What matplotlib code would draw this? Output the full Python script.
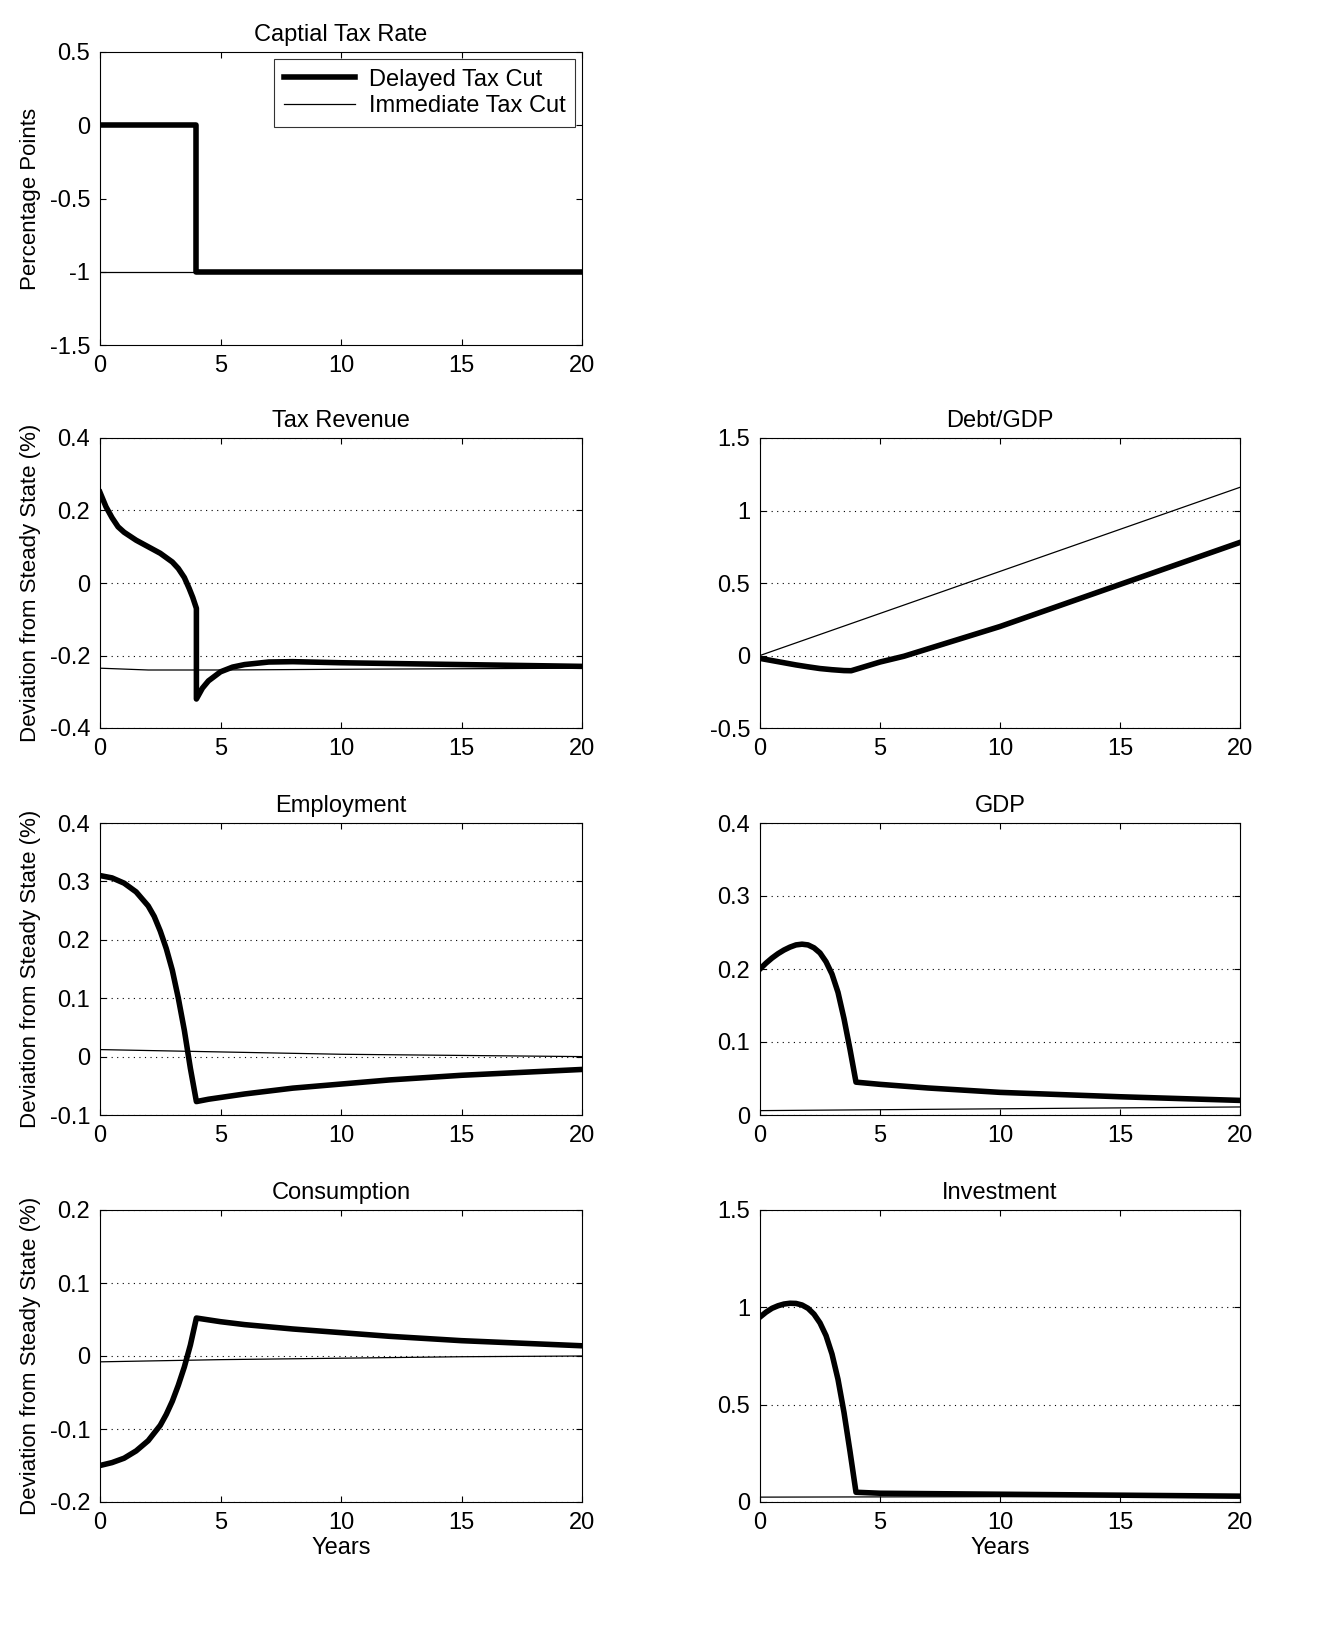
import matplotlib
matplotlib.use("Agg")
import matplotlib.pyplot as plt
from matplotlib.ticker import FuncFormatter
import numpy as np

plt.rcParams['font.family'] = ['Liberation Sans', 'DejaVu Sans']
plt.rcParams['font.size'] = 16

# ---- data ----
tax_d_x = [0, 4, 4, 20]; tax_d_y = [0, 0, -1, -1]
tax_i_x = [0, 20]; tax_i_y = [-1, -1]

rev_d_x = [0, 0.25, 0.5, 0.75, 1, 1.5, 2, 2.5, 3, 3.25, 3.5, 3.7, 3.85, 4, 4, 4.25, 4.5, 5, 5.5, 6, 7, 8, 10, 15, 20]
rev_d_y = [0.25, 0.21, 0.18, 0.155, 0.14, 0.118, 0.10, 0.082, 0.058, 0.04, 0.015, -0.015, -0.04, -0.07, -0.32, -0.29, -0.27, -0.245, -0.232, -0.225, -0.218, -0.217, -0.22, -0.225, -0.23]
rev_i_x = [0, 2, 5, 10, 20]; rev_i_y = [-0.235, -0.24, -0.24, -0.238, -0.235]

debt_d_x = [0, 0.5, 1, 1.5, 2, 2.5, 3, 3.5, 3.8, 4, 4.5, 5, 6, 10, 15, 20]
debt_d_y = [-0.02, -0.035, -0.05, -0.065, -0.078, -0.09, -0.098, -0.104, -0.105, -0.095, -0.07, -0.045, -0.005, 0.2, 0.49, 0.78]
debt_i_x = [0, 5, 10, 15, 20]; debt_i_y = [0, 0.29, 0.58, 0.87, 1.16]

emp_d_x = [0, 0.5, 1, 1.5, 2, 2.25, 2.5, 2.75, 3, 3.25, 3.5, 3.75, 4, 4.5, 5, 6, 7, 8, 10, 12, 15, 20]
emp_d_y = [0.31, 0.306, 0.297, 0.282, 0.258, 0.24, 0.215, 0.185, 0.148, 0.1, 0.045, -0.02, -0.077, -0.073, -0.07, -0.064, -0.059, -0.054, -0.047, -0.04, -0.032, -0.022]
emp_i_x = [0, 5, 10, 15, 20]; emp_i_y = [0.012, 0.008, 0.004, 0.002, 0.0]

gdp_d_x = [0, 0.25, 0.5, 0.75, 1, 1.25, 1.5, 1.75, 2, 2.25, 2.5, 2.75, 3, 3.25, 3.5, 3.75, 4, 5, 7, 10, 15, 20]
gdp_d_y = [0.2, 0.208, 0.215, 0.221, 0.226, 0.23, 0.233, 0.234, 0.233, 0.229, 0.222, 0.21, 0.193, 0.168, 0.132, 0.09, 0.045, 0.042, 0.037, 0.031, 0.025, 0.02]
gdp_i_x = [0, 20]; gdp_i_y = [0.006, 0.011]

con_d_x = [0, 0.5, 1, 1.5, 2, 2.5, 2.75, 3, 3.25, 3.5, 3.75, 4, 5, 6, 7, 8, 10, 12, 15, 20]
con_d_y = [-0.15, -0.146, -0.14, -0.13, -0.116, -0.095, -0.08, -0.062, -0.04, -0.015, 0.015, 0.052, 0.047, 0.043, 0.04, 0.037, 0.032, 0.027, 0.021, 0.014]
con_i_x = [0, 5, 10, 15, 20]; con_i_y = [-0.008, -0.005, -0.003, -0.001, 0.0]

inv_d_x = [0, 0.25, 0.5, 0.75, 1, 1.25, 1.5, 1.75, 2, 2.25, 2.5, 2.75, 3, 3.25, 3.5, 3.75, 4, 5, 10, 20]
inv_d_y = [0.95, 0.975, 0.995, 1.008, 1.017, 1.021, 1.02, 1.012, 0.995, 0.965, 0.92, 0.855, 0.76, 0.63, 0.46, 0.26, 0.05, 0.045, 0.04, 0.03]
inv_i_x = [0, 20]; inv_i_y = [0.025, 0.03]

W, H = 1322, 1637
fig = plt.figure(figsize=(W/100, H/100), dpi=100)
def rect(l, t, r, b):
    return [l/W, 1-b/H, (r-l)/W, (b-t)/H]
L = (100, 582); R = (760, 1240)
rows = [(52, 345), (438, 728), (823, 1115), (1210, 1502)]

fmt = FuncFormatter(lambda v, p: '%g' % round(v, 6) if abs(v) > 1e-9 else '0')

panels = [
    (L, rows[0], 'Captial Tax Rate', tax_d_x, tax_d_y, tax_i_x, tax_i_y, (-1.5, 0.5), 0.5, False, 'Percentage Points', False),
    (L, rows[1], 'Tax Revenue', rev_d_x, rev_d_y, rev_i_x, rev_i_y, (-0.4, 0.4), 0.2, True, 'Deviation from Steady State (%)', False),
    (R, rows[1], 'Debt/GDP', debt_d_x, debt_d_y, debt_i_x, debt_i_y, (-0.5, 1.5), 0.5, True, None, False),
    (L, rows[2], 'Employment', emp_d_x, emp_d_y, emp_i_x, emp_i_y, (-0.1, 0.4), 0.1, True, 'Deviation from Steady State (%)', False),
    (R, rows[2], 'GDP', gdp_d_x, gdp_d_y, gdp_i_x, gdp_i_y, (0, 0.4), 0.1, True, None, False),
    (L, rows[3], 'Consumption', con_d_x, con_d_y, con_i_x, con_i_y, (-0.2, 0.2), 0.1, True, 'Deviation from Steady State (%)', True),
    (R, rows[3], 'Investment', inv_d_x, inv_d_y, inv_i_x, inv_i_y, (0, 1.5), 0.5, True, None, True),
]
for (cx, ry, title, dx, dy, ix, iy, ylim, step, grid, ylab, xlab) in panels:
    ax = fig.add_axes(rect(cx[0], ry[0], cx[1], ry[1]))
    ax.plot(dx, dy, color='black', lw=4, label='Delayed Tax Cut')
    ax.plot(ix, iy, color='black', lw=0.9, label='Immediate Tax Cut')
    ax.set_xlim(0, 20); ax.set_ylim(*ylim)
    ax.set_xticks([0, 5, 10, 15, 20])
    ax.set_yticks(np.arange(ylim[0], ylim[1] + step/2, step))
    ax.yaxis.set_major_formatter(fmt)
    ax.tick_params(direction='in', top=True, right=True, labelsize=17, length=4, pad=7)
    if grid:
        ax.grid(axis='y', linestyle=(0, (1, 4)), color='black', lw=0.8)
    ax.set_title(title, fontsize=17, pad=8)
    if ylab: ax.set_ylabel(ylab, fontsize=16, labelpad=6)
    if xlab: ax.set_xlabel('Years', fontsize=17, labelpad=2)
    if title.startswith('Captial'):
        ax.legend(loc='upper right', fontsize=17, frameon=True, fancybox=False,
                  edgecolor='black', handlelength=3, borderaxespad=0.3,
                  handletextpad=0.6, labelspacing=0.2).get_frame().set_linewidth(0.8)

fig.savefig('out.png', dpi=100)
